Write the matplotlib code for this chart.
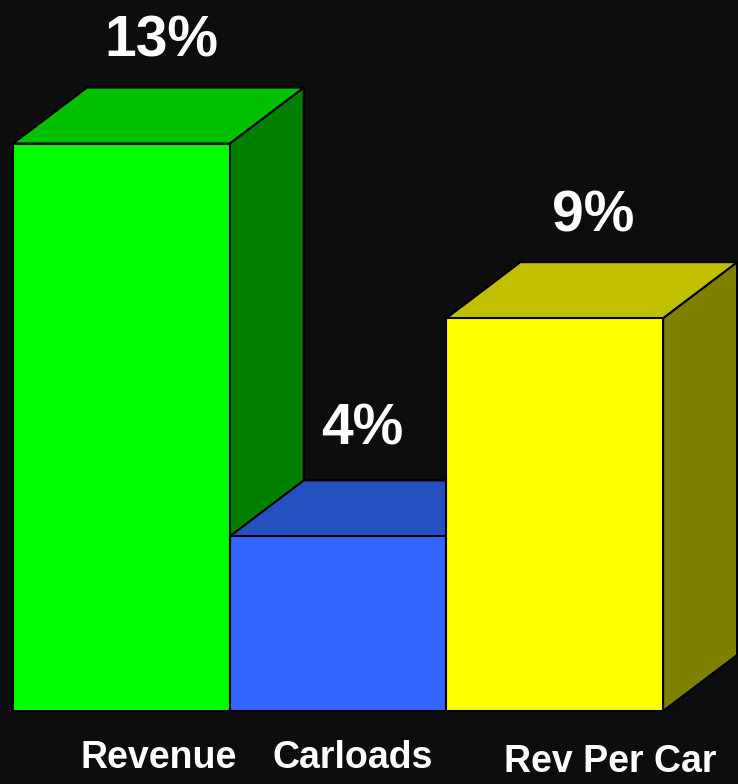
import matplotlib
matplotlib.use("Agg")
import matplotlib.pyplot as plt
from matplotlib.patches import Polygon
from matplotlib.transforms import offset_copy

# Year-over-year growth, percent
categories = ["Revenue", "Carloads", "Rev Per Car"]
growth = [13, 4, 9]
value_labels = ["13%", "4%", "9%"]

front_colors = ["#00ff00", "#3366ff", "#ffff00"]
top_colors = ["#00c000", "#2450c0", "#c0c000"]
side_colors = ["#007f00", "#1a3a99", "#808000"]
bg = "#0d0d0d"

W, H, DPI = 738, 784, 100
fig = plt.figure(figsize=(W / DPI, H / DPI), dpi=DPI, facecolor=bg)
ax = fig.add_axes([0, 0, 1, 1])
ax.set_facecolor(bg)
ax.axis("off")

# pixel geometry of the plotting frame
left_px, base_px = 13.0, 711.0
bar_px, unit_px = 216.7, 43.65
ax.set_xlim(-left_px / bar_px, (W - left_px) / bar_px)
ax.set_ylim(-(H - base_px) / unit_px, base_px / unit_px)

dx = 74.0 / bar_px      # depth in category units
dy = 56.0 / unit_px     # depth in percent units
lw = 1.5

for i, v in enumerate(growth):
    x0, x1 = i, i + 1
    side = Polygon([(x1, 0), (x1 + dx, dy), (x1 + dx, v + dy), (x1, v)],
                   closed=True, facecolor=side_colors[i], edgecolor="black",
                   linewidth=lw, zorder=3 * i + 1)
    top = Polygon([(x0, v), (x0 + dx, v + dy), (x1 + dx, v + dy), (x1, v)],
                  closed=True, facecolor=top_colors[i], edgecolor="black",
                  linewidth=lw, zorder=3 * i + 2)
    ax.add_patch(side)
    ax.add_patch(top)
    ax.bar(x0, v, width=1, align="edge", color=front_colors[i],
           edgecolor="black", linewidth=lw, zorder=3 * i + 3)

# value labels above each bar (horizontal nudges in pixels)
value_nudge = [40, 24, 38]
value_gap = [31, 36, 31]
for i, (v, t) in enumerate(zip(growth, value_labels)):
    tr = offset_copy(ax.transData, fig=fig, x=value_nudge[i] * 72 / DPI,
                     y=value_gap[i] * 72 / DPI, units="points")
    ax.text(i + 0.5, v + dy, t, transform=tr, ha="center", va="baseline",
            color="white", fontsize=41, fontweight="bold",
            family="Liberation Sans", zorder=20)

# category labels under the bars
cat_center_px = [159, 353, 610]
cat_base_px = [768, 768, 772]
for name, cx, by in zip(categories, cat_center_px, cat_base_px):
    ax.text(cx / W, 1 - by / H, name, transform=fig.transFigure,
            ha="center", va="baseline", color="white", fontsize=27,
            fontweight="bold", family="Liberation Sans", zorder=20)

fig.savefig("out.png", dpi=DPI, facecolor=bg)
